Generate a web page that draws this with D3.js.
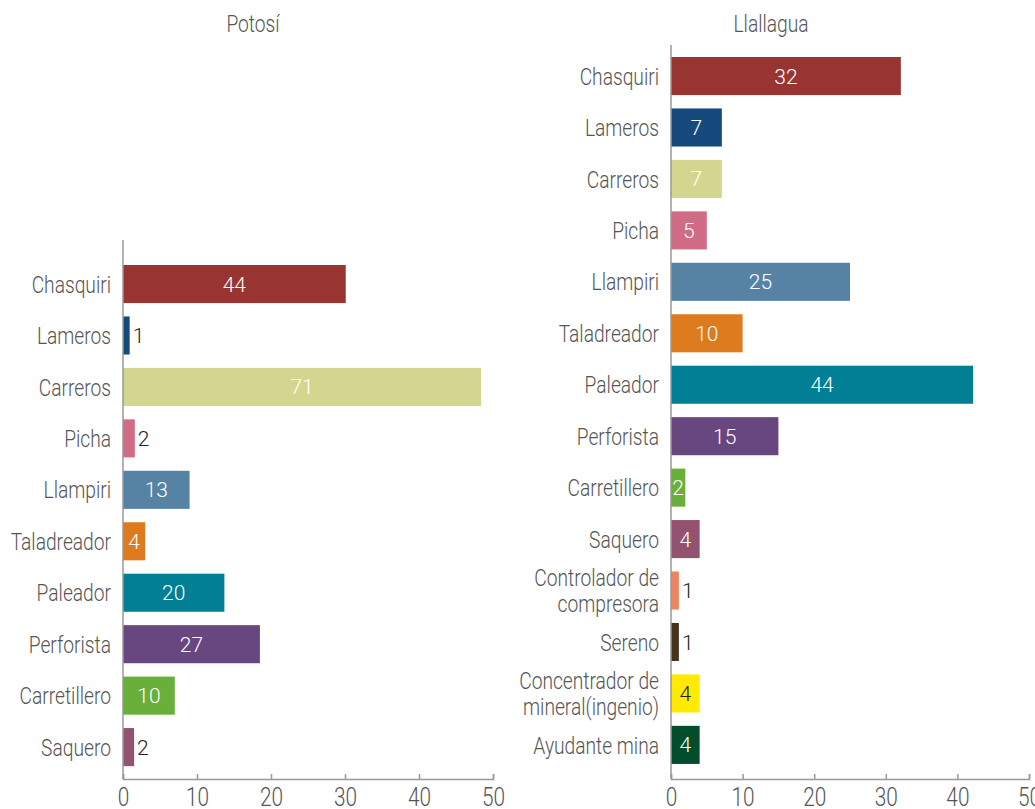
<!DOCTYPE html>
<html>
<head>
<meta charset="utf-8">
<script src="https://cdn.jsdelivr.net/npm/d3@7"></script>
<style>
  body { margin: 0; background: #fff; }
  text { font-family: Roboto, "Liberation Sans", sans-serif; font-weight: 300; }
</style>
</head>
<body>
<div id="chart"></div>
<script>

// occupations and what each panel shows
var potosiCats = ["Chasquiri", "Lameros", "Carreros", "Picha", "Llampiri", "Taladreador",
                  "Paleador", "Perforista", "Carretillero", "Saquero"];
var potosiBars = [30.1, 0.9, 48.4, 1.6, 9.0, 3.0, 13.7, 18.5, 7.0, 1.5];
var potosiLabels = [44, 1, 71, 2, 13, 4, 20, 27, 10, 2];

var llallaguaCats = ["Chasquiri", "Lameros", "Carreros", "Picha", "Llampiri", "Taladreador",
                     "Paleador", "Perforista", "Carretillero", "Saquero",
                     "Controlador de compresora", "Sereno",
                     "Concentrador de mineral(ingenio)", "Ayudante mina"];
var llallaguaBars = [32.1, 7.1, 7.1, 5.0, 25.0, 10.0, 42.2, 15.0, 2.0, 4.0, 1.1, 1.1, 4.0, 4.0];
var llallaguaLabels = [32, 7, 7, 5, 25, 10, 44, 15, 2, 4, 1, 1, 4, 4];

var xTicks = [0, 10, 20, 30, 40, 50];

var occColors = {
  "Chasquiri": "#983532",
  "Lameros": "#174a7c",
  "Carreros": "#d4d68f",
  "Picha": "#d06c86",
  "Llampiri": "#5682a3",
  "Taladreador": "#de7b1f",
  "Paleador": "#017f95",
  "Perforista": "#684780",
  "Carretillero": "#69b03a",
  "Saquero": "#93526f",
  "Controlador de compresora": "#ee8560",
  "Sereno": "#47321a",
  "Concentrador de mineral(ingenio)": "#ffea00",
  "Ayudante mina": "#014d2c"
};

var width = 1035, height = 809;
var narrow = 0.8;   // fake a condensed face

var svg = d3.select("#chart")
  .append("svg")
  .attr("width", width)
  .attr("height", height);

var step = 51.45;

function drawPanel(opt) {
  var x = d3.scaleLinear().domain([0, 50]).range([opt.x0, opt.x1]);
  var n = opt.cats.length;
  var top = opt.firstBar - 0.13 * step;
  var y = d3.scaleBand()
    .domain(opt.cats)
    .range([top, top + n * step])
    .paddingInner(0.26)
    .paddingOuter(0.13);

  var g = svg.append("g");

  // title
  g.append("text")
    .attr("transform", "translate(" + opt.titleX + ",32) scale(" + narrow + ",1)")
    .attr("text-anchor", "middle")
    .style("font-size", "24px")
    .style("fill", "#555")
    .text(opt.title);

  // bars
  var rows = opt.cats.map(function (c, i) {
    return { cat: c, v: opt.bars[i], lab: opt.labels[i] };
  });

  g.selectAll(".bar")
    .data(rows)
    .enter().append("rect")
    .attr("class", "bar")
    .attr("x", x(0))
    .attr("y", function (d) { return y(d.cat); })
    .attr("width", function (d) { return x(d.v) - x(0); })
    .attr("height", y.bandwidth())
    .attr("fill", function (d) { return occColors[d.cat]; });

  // value labels: inside when the bar is wide enough, else just after it
  g.selectAll(".val")
    .data(rows)
    .enter().append("text")
    .attr("class", "val")
    .attr("x", function (d) {
      return d.v < 1.8 ? x(d.v) + 3 : (x(0) + x(d.v)) / 2;
    })
    .attr("y", function (d) { return y(d.cat) + y.bandwidth() / 2; })
    .attr("dy", "0.36em")
    .attr("text-anchor", function (d) { return d.v < 1.8 ? "start" : "middle"; })
    .style("font-size", "21px")
    .style("fill", function (d) {
      if (d.v < 1.8) return "#222";
      if (occColors[d.cat] == "#ffea00") return "#222";
      return "#fff";
    })
    .text(function (d) { return d.lab; });

  // category labels (long ones split after "de")
  var cl = g.selectAll(".cat")
    .data(opt.cats)
    .enter().append("text")
    .attr("class", "cat")
    .attr("text-anchor", "end")
    .attr("transform", function (d) {
      return "translate(" + (x(0) - 12) + "," + (y(d) + y.bandwidth() / 2) + ") scale(" + narrow + ",1)";
    })
    .style("font-size", "24px")
    .style("fill", "#555");

  cl.each(function (d) {
    var t = d3.select(this);
    var k = d.indexOf(" de ");
    if (k < 0) {
      t.append("tspan").attr("dy", "0.36em").text(d);
    } else {
      t.append("tspan").attr("x", 0).attr("dy", "-0.2em").text(d.slice(0, k + 3));
      t.append("tspan").attr("x", 0).attr("dy", "1.1em").text(d.slice(k + 4));
    }
  });

  // axes
  var xAxis = d3.axisBottom(x)
    .tickValues(xTicks)
    .tickSizeInner(-5)
    .tickSizeOuter(-5)
    .tickPadding(9);

  var ax = g.append("g")
    .attr("transform", "translate(0," + opt.base + ")")
    .call(xAxis);
  ax.selectAll("path, line").attr("stroke", "#999").attr("stroke-width", 1.5);
  ax.selectAll("text")
    .attr("transform", "scale(" + narrow + ",1)")
    .style("font-size", "26px")
    .style("fill", "#555")
    .style("font-family", "Roboto, sans-serif")
    .style("font-weight", 300);

  g.append("line")
    .attr("x1", x(0)).attr("x2", x(0))
    .attr("y1", opt.axisTop).attr("y2", opt.base)
    .attr("stroke", "#999")
    .attr("stroke-width", 1.5);
}

drawPanel({
  title: "Potosí", titleX: 253,
  cats: potosiCats, bars: potosiBars, labels: potosiLabels,
  x0: 123, x1: 493, firstBar: 265, axisTop: 240, base: 779
});

drawPanel({
  title: "Llallagua", titleX: 771,
  cats: llallaguaCats, bars: llallaguaBars, labels: llallaguaLabels,
  x0: 671, x1: 1029, firstBar: 57, axisTop: 45, base: 779
});

</script>
</body>
</html>
